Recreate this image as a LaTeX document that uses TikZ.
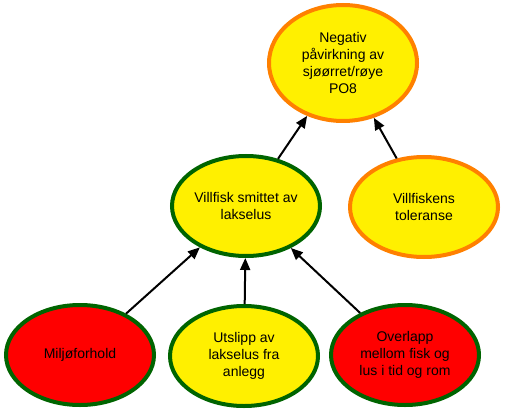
\documentclass[tikz,border=0pt]{standalone}
\usepackage{fontspec}
\setmainfont{Liberation Sans}
\usetikzlibrary{shapes.geometric,arrows.meta}
\definecolor{gul}{RGB}{255,240,0}
\definecolor{rod}{RGB}{255,0,0}
\definecolor{gronn}{RGB}{0,100,0}
\definecolor{oransje}{RGB}{255,128,0}
\tikzset{
    EG/.style ={ellipse,minimum width = 111pt, minimum height =75pt, draw=gronn, line width=3pt, fill=gul, align=center, inner sep=0pt, font=\fontsize{10.5}{12.6}\selectfont},
    ER/.style ={EG, fill=rod},
    EO/.style ={EG, draw=oransje},
    PI/.style ={-{Triangle[length=9pt,width=7.5pt]}, line width=1.5pt}}
\begin{document}
\begin{tikzpicture}[x=0.75pt,y=-0.75pt]
        \useasboundingbox (0,0) rectangle (505,413);
        \node[EO,minimum height=87pt] (1) at(343,63){Negativ\\påvirkning av\\sjøørret/røye\\PO8};
        \node[EG] (2) at(246,206){Villfisk smittet av\\lakselus};
        \node[EO] (3) at(424,207){Villfiskens\\toleranse};
        \node[ER] (4) at(80,355){Miljøforhold};
        \node[EG] (5) at(244,356){Utslipp av\\lakselus fra\\anlegg};
        \node[ER] (6) at(405,355){Overlapp\\mellom fisk og\\lus i tid og rom};
        \draw[PI] (2) --(1);
        \draw[PI] (3) --(1);
        \draw[PI] (4) --(2);
        \draw[PI] (5) --(2);
        \draw[PI] (6) --(2);
    \end{tikzpicture}
\end{document}
